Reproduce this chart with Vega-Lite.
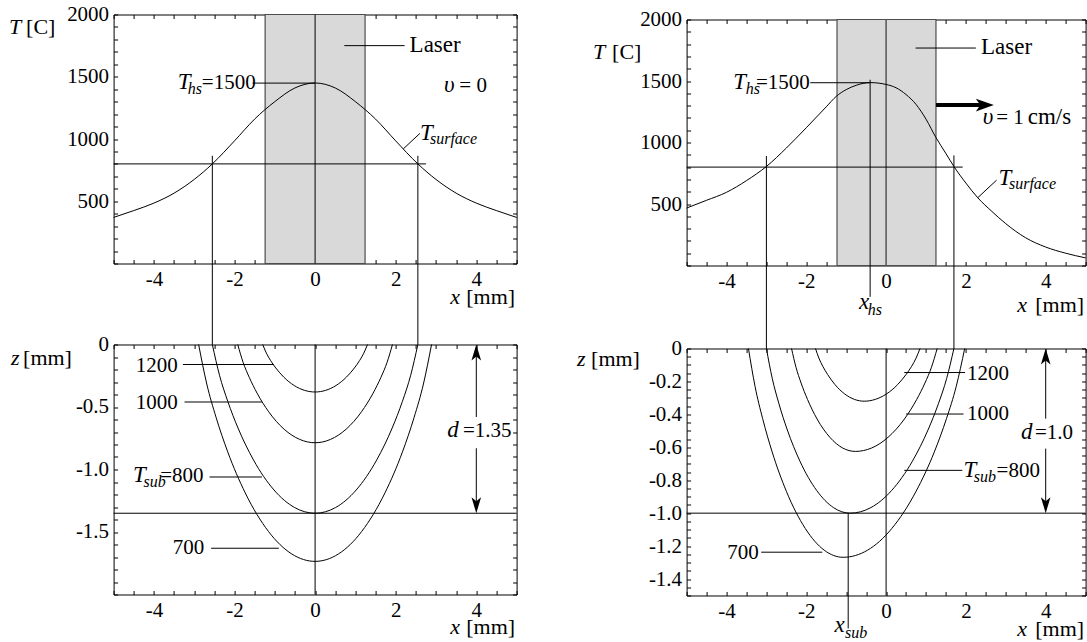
{
  "$schema": "https://vega.github.io/schema/vega-lite/v6.json",
  "background": "white",
  "padding": {"left": 8.6, "top": 3.5, "right": 0, "bottom": 0},
  "autosize": {"type": "pad"},
  "config": {
    "view": {"stroke": null},
    "axis": {
      "domainColor": "black", "domainWidth": 1, "tickColor": "black", "tickWidth": 1, "tickSize": -4,
      "labelColor": "black", "labelFont": "Liberation Sans Narrow", "labelFontSize": 21, "labelPadding": 9,
      "labelOverlap": false, "labelFlush": false, "labelBound": false, "grid": false,
      "titleColor": "black", "titleFont": "Liberation Serif", "titleFontSize": 22, "titleFontWeight": "normal"
    }
  },
  "datasets": {
    "tl_laser": [{"x1": -1.24, "x2": 1.24, "t1": 0, "t2": 2000}],
    "tl_curve": [
      {"x": -5, "t": 370}, {"x": -4.5, "t": 425}, {"x": -4, "t": 485}, {"x": -3.5, "t": 565}, {"x": -3, "t": 675},
      {"x": -2.55, "t": 800}, {"x": -2, "t": 985}, {"x": -1.5, "t": 1160}, {"x": -1, "t": 1300}, {"x": -0.5, "t": 1410},
      {"x": 0, "t": 1450}, {"x": 0.5, "t": 1410}, {"x": 1, "t": 1300}, {"x": 1.5, "t": 1160}, {"x": 2, "t": 985},
      {"x": 2.55, "t": 800}, {"x": 3, "t": 675}, {"x": 3.5, "t": 565}, {"x": 4, "t": 485}, {"x": 4.5, "t": 425}, {"x": 5, "t": 370}
    ],
    "tl_seg": [
      {"x1": -5, "x2": 2.75, "t1": 800, "t2": 800},
      {"x1": -2.55, "x2": -2.55, "t1": 865, "t2": -652},
      {"x1": 2.55, "x2": 2.55, "t1": 865, "t2": -652},
      {"x1": 0, "x2": 0, "t1": 0, "t2": 2000},
      {"x1": 0.725, "x2": 2.22, "t1": 1750, "t2": 1750},
      {"x1": -1.55, "x2": 0, "t1": 1449, "t2": 1449},
      {"x1": 2.19, "x2": 2.6, "t1": 921, "t2": 1045}
    ],
    "tl_it": [{"x": -3.41, "t": 1401, "s": "T"}, {"x": 2.6, "t": 990, "s": "T"}, {"x": 3.2, "t": 1374, "s": "υ"}],
    "tl_sub": [{"x": -3.16, "t": 1361, "s": "hs"}, {"x": 2.85, "t": 963, "s": "surface"}],
    "tl_sans": [{"x": -2.81, "t": 1401, "s": "=1500"}, {"x": 3.58, "t": 1374, "s": "= 0"}],
    "tl_serif": [{"x": 2.345, "t": 1696, "s": "Laser"}],

    "bl_curve": [
      {"c": "1200", "x": -1.3, "z": 0}, {"c": "1200", "x": -1.209, "z": -0.069}, {"c": "1200", "x": -1.105, "z": -0.128}, {"c": "1200", "x": -0.975, "z": -0.188},
      {"c": "1200", "x": -0.78, "z": -0.26}, {"c": "1200", "x": -0.52, "z": -0.328}, {"c": "1200", "x": -0.26, "z": -0.367}, {"c": "1200", "x": 0, "z": -0.38},
      {"c": "1200", "x": 0.26, "z": -0.367}, {"c": "1200", "x": 0.52, "z": -0.328}, {"c": "1200", "x": 0.78, "z": -0.26}, {"c": "1200", "x": 0.975, "z": -0.188},
      {"c": "1200", "x": 1.105, "z": -0.128}, {"c": "1200", "x": 1.209, "z": -0.069}, {"c": "1200", "x": 1.3, "z": 0},
      {"c": "1000", "x": -1.92, "z": 0}, {"c": "1000", "x": -1.786, "z": -0.143}, {"c": "1000", "x": -1.632, "z": -0.264}, {"c": "1000", "x": -1.44, "z": -0.389},
      {"c": "1000", "x": -1.152, "z": -0.538}, {"c": "1000", "x": -0.768, "z": -0.678}, {"c": "1000", "x": -0.384, "z": -0.759}, {"c": "1000", "x": 0, "z": -0.786},
      {"c": "1000", "x": 0.384, "z": -0.759}, {"c": "1000", "x": 0.768, "z": -0.678}, {"c": "1000", "x": 1.152, "z": -0.538}, {"c": "1000", "x": 1.44, "z": -0.389},
      {"c": "1000", "x": 1.632, "z": -0.264}, {"c": "1000", "x": 1.786, "z": -0.143}, {"c": "1000", "x": 1.92, "z": 0},
      {"c": "800", "x": -2.55, "z": 0}, {"c": "800", "x": -2.372, "z": -0.246}, {"c": "800", "x": -2.168, "z": -0.454}, {"c": "800", "x": -1.913, "z": -0.668},
      {"c": "800", "x": -1.53, "z": -0.923}, {"c": "800", "x": -1.02, "z": -1.164}, {"c": "800", "x": -0.51, "z": -1.304}, {"c": "800", "x": 0, "z": -1.35},
      {"c": "800", "x": 0.51, "z": -1.304}, {"c": "800", "x": 1.02, "z": -1.164}, {"c": "800", "x": 1.53, "z": -0.923}, {"c": "800", "x": 1.913, "z": -0.668},
      {"c": "800", "x": 2.168, "z": -0.454}, {"c": "800", "x": 2.372, "z": -0.246}, {"c": "800", "x": 2.55, "z": 0},
      {"c": "700", "x": -2.89, "z": 0}, {"c": "700", "x": -2.688, "z": -0.316}, {"c": "700", "x": -2.457, "z": -0.583}, {"c": "700", "x": -2.168, "z": -0.859},
      {"c": "700", "x": -1.734, "z": -1.187}, {"c": "700", "x": -1.156, "z": -1.496}, {"c": "700", "x": -0.578, "z": -1.676}, {"c": "700", "x": 0, "z": -1.735},
      {"c": "700", "x": 0.578, "z": -1.676}, {"c": "700", "x": 1.156, "z": -1.496}, {"c": "700", "x": 1.734, "z": -1.187}, {"c": "700", "x": 2.168, "z": -0.859},
      {"c": "700", "x": 2.457, "z": -0.583}, {"c": "700", "x": 2.688, "z": -0.316}, {"c": "700", "x": 2.89, "z": 0}
    ],
    "bl_seg": [
      {"x1": 0, "x2": 0, "z1": -2, "z2": 0},
      {"x1": -5, "x2": 5, "z1": -1.35, "z2": -1.35},
      {"x1": -3.28, "x2": -1.02, "z1": -0.16, "z2": -0.16},
      {"x1": -3.24, "x2": -1.32, "z1": -0.46, "z2": -0.46},
      {"x1": -2.62, "x2": -1.32, "z1": -1.06, "z2": -1.06},
      {"x1": -2.58, "x2": -0.9, "z1": -1.63, "z2": -1.63},
      {"x1": 4, "x2": 4, "z1": -0.03, "z2": -0.58},
      {"x1": 4, "x2": 4, "z1": -0.83, "z2": -1.32}
    ],
    "bl_up": [{"x": 4, "z": 0}],
    "bl_down": [{"x": 4, "z": -1.35}],
    "bl_sans_r": [{"x": -3.41, "z": -0.219, "s": "1200"}, {"x": -3.41, "z": -0.513, "s": "1000"}, {"x": -2.77, "z": -1.1, "s": "=800"}, {"x": -2.75, "z": -1.676, "s": "700"}],
    "bl_sans": [{"x": 3.67, "z": -0.74, "s": "=1.35"}],
    "bl_it": [{"x": -4.52, "z": -1.1, "s": "T"}, {"x": 3.28, "z": -0.74, "s": "d"}],
    "bl_sub": [{"x": -4.26, "z": -1.14, "s": "sub"}],

    "tr_laser": [{"x1": -1.23, "x2": 1.25, "t1": 0, "t2": 2000}],
    "tr_curve": [
      {"x": -5, "t": 467}, {"x": -4.5, "t": 530}, {"x": -4, "t": 595}, {"x": -3.5, "t": 690}, {"x": -3, "t": 805},
      {"x": -2.5, "t": 955}, {"x": -2, "t": 1120}, {"x": -1.5, "t": 1290}, {"x": -1.25, "t": 1375}, {"x": -1, "t": 1430},
      {"x": -0.75, "t": 1465}, {"x": -0.4, "t": 1487}, {"x": 0, "t": 1472}, {"x": 0.25, "t": 1445}, {"x": 0.5, "t": 1390},
      {"x": 0.75, "t": 1310}, {"x": 1, "t": 1190}, {"x": 1.25, "t": 1040}, {"x": 1.5, "t": 910}, {"x": 1.7, "t": 805},
      {"x": 2, "t": 670}, {"x": 2.3, "t": 550}, {"x": 2.65, "t": 440}, {"x": 3, "t": 340}, {"x": 3.5, "t": 225},
      {"x": 4, "t": 150}, {"x": 4.5, "t": 100}, {"x": 5, "t": 62}
    ],
    "tr_seg": [
      {"x1": -5, "x2": 1.92, "t1": 800, "t2": 800},
      {"x1": -3, "x2": -3, "t1": 890, "t2": -677},
      {"x1": 1.7, "x2": 1.7, "t1": 895, "t2": -677},
      {"x1": -0.4, "x2": -0.4, "t1": 1510, "t2": -255},
      {"x1": 0.74, "x2": 2.25, "t1": 1768, "t2": 1768},
      {"x1": -1.9, "x2": -0.4, "t1": 1486, "t2": 1486},
      {"x1": 2.3, "x2": 2.77, "t1": 552, "t2": 694}
    ],
    "tr_zero": [{"x1": 0, "x2": 0, "t1": 0, "t2": 2000}],
    "tr_shaft": [{"x1": 1.25, "x2": 2.45, "t1": 1304, "t2": 1304}],
    "tr_head": [{"x": 2.7, "t": 1304}],
    "tr_it": [{"x": -3.83, "t": 1438, "s": "T"}, {"x": 2.82, "t": 653, "s": "T"}, {"x": 2.42, "t": 1154, "s": "υ"}, {"x": -0.68, "t": -351, "s": "x"}],
    "tr_sub": [{"x": -3.52, "t": 1397, "s": "hs"}, {"x": 3.08, "t": 626, "s": "surface"}, {"x": -0.46, "t": -406, "s": "hs"}],
    "tr_sans": [{"x": -3.26, "t": 1438, "s": "=1500"}, {"x": 2.76, "t": 1154, "s": "= 1"}],
    "tr_serif": [{"x": 2.38, "t": 1716, "s": "Laser"}, {"x": 3.55, "t": 1154, "s": "cm/s"}],

    "br_curve": [
      {"c": "1200", "x": -1.77, "z": 0}, {"c": "1200", "x": -1.685, "z": -0.058}, {"c": "1200", "x": -1.587, "z": -0.108}, {"c": "1200", "x": -1.465, "z": -0.158},
      {"c": "1200", "x": -1.282, "z": -0.219}, {"c": "1200", "x": -1.038, "z": -0.276}, {"c": "1200", "x": -0.794, "z": -0.309}, {"c": "1200", "x": -0.55, "z": -0.32},
      {"c": "1200", "x": -0.27, "z": -0.309}, {"c": "1200", "x": 0.01, "z": -0.276}, {"c": "1200", "x": 0.29, "z": -0.219}, {"c": "1200", "x": 0.5, "z": -0.158},
      {"c": "1200", "x": 0.64, "z": -0.108}, {"c": "1200", "x": 0.752, "z": -0.058}, {"c": "1200", "x": 0.85, "z": 0},
      {"c": "1000", "x": -2.37, "z": 0}, {"c": "1000", "x": -2.258, "z": -0.114}, {"c": "1000", "x": -2.13, "z": -0.21}, {"c": "1000", "x": -1.97, "z": -0.309},
      {"c": "1000", "x": -1.73, "z": -0.428}, {"c": "1000", "x": -1.41, "z": -0.539}, {"c": "1000", "x": -1.09, "z": -0.604}, {"c": "1000", "x": -0.77, "z": -0.625},
      {"c": "1000", "x": -0.36, "z": -0.604}, {"c": "1000", "x": 0.05, "z": -0.539}, {"c": "1000", "x": 0.46, "z": -0.428}, {"c": "1000", "x": 0.768, "z": -0.309},
      {"c": "1000", "x": 0.973, "z": -0.21}, {"c": "1000", "x": 1.137, "z": -0.114}, {"c": "1000", "x": 1.28, "z": 0},
      {"c": "800", "x": -3, "z": 0}, {"c": "800", "x": -2.853, "z": -0.182}, {"c": "800", "x": -2.685, "z": -0.336}, {"c": "800", "x": -2.475, "z": -0.495},
      {"c": "800", "x": -2.16, "z": -0.684}, {"c": "800", "x": -1.74, "z": -0.862}, {"c": "800", "x": -1.32, "z": -0.966}, {"c": "800", "x": -0.9, "z": -1},
      {"c": "800", "x": -0.38, "z": -0.966}, {"c": "800", "x": 0.14, "z": -0.862}, {"c": "800", "x": 0.66, "z": -0.684}, {"c": "800", "x": 1.05, "z": -0.495},
      {"c": "800", "x": 1.31, "z": -0.336}, {"c": "800", "x": 1.518, "z": -0.182}, {"c": "800", "x": 1.7, "z": 0},
      {"c": "700", "x": -3.45, "z": 0}, {"c": "700", "x": -3.284, "z": -0.231}, {"c": "700", "x": -3.094, "z": -0.426}, {"c": "700", "x": -2.856, "z": -0.628},
      {"c": "700", "x": -2.5, "z": -0.867}, {"c": "700", "x": -2.025, "z": -1.093}, {"c": "700", "x": -1.55, "z": -1.225}, {"c": "700", "x": -1.075, "z": -1.268},
      {"c": "700", "x": -0.466, "z": -1.225}, {"c": "700", "x": 0.143, "z": -1.093}, {"c": "700", "x": 0.752, "z": -0.867}, {"c": "700", "x": 1.209, "z": -0.628},
      {"c": "700", "x": 1.513, "z": -0.426}, {"c": "700", "x": 1.757, "z": -0.231}, {"c": "700", "x": 1.97, "z": 0}
    ],
    "br_seg": [
      {"x1": 0, "x2": 0, "z1": -1.5, "z2": 0},
      {"x1": -5, "x2": 5, "z1": -1, "z2": -1},
      {"x1": -0.95, "x2": -0.95, "z1": -1, "z2": -1.7},
      {"x1": 0.455, "x2": 1.98, "z1": -0.146, "z2": -0.146},
      {"x1": 0.5, "x2": 1.94, "z1": -0.398, "z2": -0.398},
      {"x1": 0.455, "x2": 1.91, "z1": -0.74, "z2": -0.74},
      {"x1": -3.13, "x2": -1.6, "z1": -1.237, "z2": -1.237},
      {"x1": 4, "x2": 4, "z1": -0.02, "z2": -0.426},
      {"x1": 4, "x2": 4, "z1": -0.608, "z2": -0.98}
    ],
    "br_up": [{"x": 4, "z": 0}],
    "br_down": [{"x": 4, "z": -1}],
    "br_sans": [{"x": 2.03, "z": -0.189, "s": "1200"}, {"x": 2.03, "z": -0.436, "s": "1000"}, {"x": 2.77, "z": -0.781, "s": "=800"}, {"x": 3.73, "z": -0.548, "s": "=1.0"}],
    "br_sans_r": [{"x": -3.19, "z": -1.278, "s": "700"}],
    "br_it": [{"x": 1.94, "z": -0.781, "s": "T"}, {"x": 3.38, "z": -0.548, "s": "d"}, {"x": -1.29, "z": -1.72, "s": "x"}],
    "br_sub": [{"x": 2.2, "z": -0.811, "s": "sub"}, {"x": -1.03, "z": -1.76, "s": "sub"}]
  },
  "spacing": 58,
  "hconcat": [
    {
      "bounds": "flush",
      "spacing": 81,
      "vconcat": [
        {
          "width": 403, "height": 249,
          "resolve": {"axis": {"x": "independent", "y": "independent"}},
          "layer": [
            {"data": {"name": "tl_laser"}, "mark": {"type": "rect", "fill": "#d9d9d9", "stroke": "#4d4d4d", "strokeWidth": 1.2},
             "encoding": {
               "x": {"field": "x1", "type": "quantitative", "scale": {"domain": [-5, 5], "nice": false, "zero": false},
                     "axis": {"orient": "bottom", "values": [-5,-4.5,-4,-3.5,-3,-2.5,-2,-1.5,-1,-0.5,0,0.5,1,1.5,2,2.5,3,3.5,4,4.5,5],
                              "labelExpr": "datum.value % 2 == 0 ? (datum.value < 0 ? '-' + (-datum.value) : '' + datum.value) : ''",
                              "title": "[mm]", "titleX": 401, "titleY": 40, "titleAlign": "right", "titleBaseline": "alphabetic", "titleAngle": 0}},
               "x2": {"field": "x2"},
               "y": {"field": "t1", "type": "quantitative", "scale": {"domain": [0, 2000], "nice": false, "zero": false},
                     "axis": {"orient": "left", "values": [0,100,200,300,400,500,600,700,800,900,1000,1100,1200,1300,1400,1500,1600,1700,1800,1900,2000],
                              "labelExpr": "datum.value % 500 == 0 && datum.value > 0 ? '' + datum.value : ''",
                              "title": "[C]", "titleX": -88, "titleY": 19, "titleAlign": "left", "titleBaseline": "alphabetic", "titleAngle": 0}},
               "y2": {"field": "t2"}}},
            {"data": {"name": "tl_curve"}, "mark": {"type": "line", "color": "black", "strokeWidth": 1, "interpolate": "monotone"},
             "encoding": {
               "x": {"field": "x", "type": "quantitative", "axis": {"orient": "top", "values": [-5,-4.5,-4,-3.5,-3,-2.5,-2,-1.5,-1,-0.5,0,0.5,1,1.5,2,2.5,3,3.5,4,4.5,5], "labels": false, "title": null}},
               "y": {"field": "t", "type": "quantitative", "axis": {"orient": "right", "values": [0,100,200,300,400,500,600,700,800,900,1000,1100,1200,1300,1400,1500,1600,1700,1800,1900,2000], "labels": false, "title": null}}}},
            {"data": {"name": "tl_seg"}, "mark": {"type": "rule", "color": "black", "strokeWidth": 1},
             "encoding": {
               "x": {"field": "x1", "type": "quantitative", "axis": {"orient": "bottom", "domain": false, "ticks": false, "labels": false, "title": "x", "titleFontStyle": "italic", "titleX": 346, "titleY": 40, "titleAlign": "right", "titleBaseline": "alphabetic", "titleAngle": 0}},
               "x2": {"field": "x2"},
               "y": {"field": "t1", "type": "quantitative", "axis": {"orient": "left", "domain": false, "ticks": false, "labels": false, "title": "T", "titleFontStyle": "italic", "titleX": -105, "titleY": 19, "titleAlign": "left", "titleBaseline": "alphabetic", "titleAngle": 0}},
               "y2": {"field": "t2"}}},
            {"data": {"name": "tl_it"}, "mark": {"type": "text", "font": "Liberation Serif", "fontStyle": "italic", "fontSize": 23, "align": "left", "baseline": "alphabetic", "color": "black"},
             "encoding": {"x": {"field": "x", "type": "quantitative", "axis": null}, "y": {"field": "t", "type": "quantitative", "axis": null}, "text": {"field": "s"}}},
            {"data": {"name": "tl_sub"}, "mark": {"type": "text", "font": "Liberation Serif", "fontStyle": "italic", "fontSize": 16, "align": "left", "baseline": "alphabetic", "color": "black"},
             "encoding": {"x": {"field": "x", "type": "quantitative", "axis": null}, "y": {"field": "t", "type": "quantitative", "axis": null}, "text": {"field": "s"}}},
            {"data": {"name": "tl_sans"}, "mark": {"type": "text", "font": "Liberation Sans Narrow", "fontSize": 21, "align": "left", "baseline": "alphabetic", "color": "black"},
             "encoding": {"x": {"field": "x", "type": "quantitative", "axis": null}, "y": {"field": "t", "type": "quantitative", "axis": null}, "text": {"field": "s"}}},
            {"data": {"name": "tl_serif"}, "mark": {"type": "text", "font": "Liberation Serif", "fontSize": 23, "align": "left", "baseline": "alphabetic", "color": "black"},
             "encoding": {"x": {"field": "x", "type": "quantitative", "axis": null}, "y": {"field": "t", "type": "quantitative", "axis": null}, "text": {"field": "s"}}}
          ]
        },
        {
          "width": 403, "height": 250,
          "resolve": {"axis": {"x": "independent", "y": "independent"}},
          "layer": [
            {"data": {"name": "bl_seg"}, "mark": {"type": "rule", "color": "black", "strokeWidth": 1},
             "encoding": {
               "x": {"field": "x1", "type": "quantitative", "scale": {"domain": [-5, 5], "nice": false, "zero": false},
                     "axis": {"orient": "bottom", "values": [-5,-4.5,-4,-3.5,-3,-2.5,-2,-1.5,-1,-0.5,0,0.5,1,1.5,2,2.5,3,3.5,4,4.5,5],
                              "labelExpr": "datum.value % 2 == 0 ? (datum.value < 0 ? '-' + (-datum.value) : '' + datum.value) : ''",
                              "title": "[mm]", "titleX": 401, "titleY": 39, "titleAlign": "right", "titleBaseline": "alphabetic", "titleAngle": 0}},
               "x2": {"field": "x2"},
               "y": {"field": "z1", "type": "quantitative", "scale": {"domain": [-2, 0], "nice": false, "zero": false},
                     "axis": {"orient": "left", "values": [0,-0.1,-0.2,-0.3,-0.4,-0.5,-0.6,-0.7,-0.8,-0.9,-1,-1.1,-1.2,-1.3,-1.4,-1.5,-1.6,-1.7,-1.8,-1.9,-2],
                              "labelExpr": "datum.value == 0 ? '0' : (abs(datum.value * 2 - round(datum.value * 2)) < 0.000001 && datum.value > -1.9 ? '-' + format(-datum.value, '.1f') : '')",
                              "title": "[mm]", "titleX": -91, "titleY": 20, "titleAlign": "left", "titleBaseline": "alphabetic", "titleAngle": 0}},
               "y2": {"field": "z2"}}},
            {"data": {"name": "bl_curve"}, "mark": {"type": "line", "color": "black", "strokeWidth": 1, "interpolate": "monotone"},
             "encoding": {
               "x": {"field": "x", "type": "quantitative", "axis": {"orient": "top", "values": [-5,-4.5,-4,-3.5,-3,-2.5,-2,-1.5,-1,-0.5,0,0.5,1,1.5,2,2.5,3,3.5,4,4.5,5], "labels": false, "title": null}},
               "y": {"field": "z", "type": "quantitative", "axis": {"orient": "right", "values": [0,-0.1,-0.2,-0.3,-0.4,-0.5,-0.6,-0.7,-0.8,-0.9,-1,-1.1,-1.2,-1.3,-1.4,-1.5,-1.6,-1.7,-1.8,-1.9,-2], "labels": false, "title": null}},
               "detail": {"field": "c"}}},
            {"data": {"name": "bl_it"}, "mark": {"type": "text", "font": "Liberation Serif", "fontStyle": "italic", "fontSize": 23, "align": "left", "baseline": "alphabetic", "color": "black"},
             "encoding": {
               "x": {"field": "x", "type": "quantitative", "axis": {"orient": "bottom", "domain": false, "ticks": false, "labels": false, "title": "x", "titleFontStyle": "italic", "titleX": 346, "titleY": 39, "titleAlign": "right", "titleBaseline": "alphabetic", "titleAngle": 0}},
               "y": {"field": "z", "type": "quantitative", "axis": {"orient": "left", "domain": false, "ticks": false, "labels": false, "title": "z", "titleFontStyle": "italic", "titleX": -103, "titleY": 20, "titleAlign": "left", "titleBaseline": "alphabetic", "titleAngle": 0}},
               "text": {"field": "s"}}},
            {"data": {"name": "bl_sub"}, "mark": {"type": "text", "font": "Liberation Serif", "fontStyle": "italic", "fontSize": 16, "align": "left", "baseline": "alphabetic", "color": "black"},
             "encoding": {"x": {"field": "x", "type": "quantitative", "axis": null}, "y": {"field": "z", "type": "quantitative", "axis": null}, "text": {"field": "s"}}},
            {"data": {"name": "bl_sans"}, "mark": {"type": "text", "font": "Liberation Sans Narrow", "fontSize": 21, "align": "left", "baseline": "alphabetic", "color": "black"},
             "encoding": {"x": {"field": "x", "type": "quantitative", "axis": null}, "y": {"field": "z", "type": "quantitative", "axis": null}, "text": {"field": "s"}}},
            {"data": {"name": "bl_sans_r"}, "mark": {"type": "text", "font": "Liberation Sans Narrow", "fontSize": 21, "align": "right", "baseline": "alphabetic", "color": "black"},
             "encoding": {"x": {"field": "x", "type": "quantitative", "axis": null}, "y": {"field": "z", "type": "quantitative", "axis": null}, "text": {"field": "s"}}},
            {"data": {"name": "bl_up"}, "mark": {"type": "point", "shape": "M0,0 L0.6,2 L0,1.5 L-0.6,2 Z", "size": 256, "filled": true, "color": "black", "opacity": 1, "strokeWidth": 0},
             "encoding": {"x": {"field": "x", "type": "quantitative", "axis": null}, "y": {"field": "z", "type": "quantitative", "axis": null}}},
            {"data": {"name": "bl_down"}, "mark": {"type": "point", "shape": "M0,0 L0.6,-2 L0,-1.5 L-0.6,-2 Z", "size": 256, "filled": true, "color": "black", "opacity": 1, "strokeWidth": 0},
             "encoding": {"x": {"field": "x", "type": "quantitative", "axis": null}, "y": {"field": "z", "type": "quantitative", "axis": null}}}
          ]
        }
      ]
    },
    {
      "bounds": "flush",
      "spacing": 4,
      "vconcat": [
        {"width": 399, "height": 1, "data": {"values": []}, "mark": "point"},
        {
          "bounds": "flush",
          "spacing": 83,
          "vconcat": [
            {
              "width": 399, "height": 246,
              "resolve": {"axis": {"x": "independent", "y": "independent"}},
              "layer": [
                {"data": {"name": "tr_laser"}, "mark": {"type": "rect", "fill": "#d9d9d9", "stroke": "#4d4d4d", "strokeWidth": 1.2},
                 "encoding": {
                   "x": {"field": "x1", "type": "quantitative", "scale": {"domain": [-5, 5], "nice": false, "zero": false},
                         "axis": {"orient": "bottom", "values": [-5,-4.5,-4,-3.5,-3,-2.5,-2,-1.5,-1,-0.5,0,0.5,1,1.5,2,2.5,3,3.5,4,4.5,5],
                                  "labelExpr": "datum.value % 2 == 0 ? (datum.value < 0 ? '-' + (-datum.value) : '' + datum.value) : ''",
                                  "title": "[mm]", "titleX": 397, "titleY": 46, "titleAlign": "right", "titleBaseline": "alphabetic", "titleAngle": 0}},
                   "x2": {"field": "x2"},
                   "y": {"field": "t1", "type": "quantitative", "scale": {"domain": [0, 2000], "nice": false, "zero": false},
                         "axis": {"orient": "left", "values": [0,100,200,300,400,500,600,700,800,900,1000,1100,1200,1300,1400,1500,1600,1700,1800,1900,2000],
                                  "labelExpr": "datum.value % 500 == 0 && datum.value > 0 ? '' + datum.value : ''",
                                  "title": "[C]", "titleX": -75, "titleY": 39, "titleAlign": "left", "titleBaseline": "alphabetic", "titleAngle": 0}},
                   "y2": {"field": "t2"}}},
                {"data": {"name": "tr_zero"}, "mark": {"type": "rule", "color": "#555555", "strokeWidth": 1.5},
                 "encoding": {"x": {"field": "x1", "type": "quantitative", "axis": null}, "x2": {"field": "x2"}, "y": {"field": "t1", "type": "quantitative", "axis": null}, "y2": {"field": "t2"}}},
                {"data": {"name": "tr_curve"}, "mark": {"type": "line", "color": "black", "strokeWidth": 1, "interpolate": "monotone"},
                 "encoding": {
                   "x": {"field": "x", "type": "quantitative", "axis": {"orient": "top", "values": [-5,-4.5,-4,-3.5,-3,-2.5,-2,-1.5,-1,-0.5,0,0.5,1,1.5,2,2.5,3,3.5,4,4.5,5], "labels": false, "title": null}},
                   "y": {"field": "t", "type": "quantitative", "axis": {"orient": "right", "values": [0,100,200,300,400,500,600,700,800,900,1000,1100,1200,1300,1400,1500,1600,1700,1800,1900,2000], "labels": false, "title": null}}}},
                {"data": {"name": "tr_seg"}, "mark": {"type": "rule", "color": "black", "strokeWidth": 1},
                 "encoding": {
                   "x": {"field": "x1", "type": "quantitative", "axis": {"orient": "bottom", "domain": false, "ticks": false, "labels": false, "title": "x", "titleFontStyle": "italic", "titleX": 340, "titleY": 46, "titleAlign": "right", "titleBaseline": "alphabetic", "titleAngle": 0}},
                   "x2": {"field": "x2"},
                   "y": {"field": "t1", "type": "quantitative", "axis": {"orient": "left", "domain": false, "ticks": false, "labels": false, "title": "T", "titleFontStyle": "italic", "titleX": -94, "titleY": 39, "titleAlign": "left", "titleBaseline": "alphabetic", "titleAngle": 0}},
                   "y2": {"field": "t2"}}},
                {"data": {"name": "tr_shaft"}, "mark": {"type": "rule", "color": "black", "strokeWidth": 4},
                 "encoding": {"x": {"field": "x1", "type": "quantitative", "axis": null}, "x2": {"field": "x2"}, "y": {"field": "t1", "type": "quantitative", "axis": null}, "y2": {"field": "t2"}}},
                {"data": {"name": "tr_head"}, "mark": {"type": "point", "shape": "M0,0 L-2,-0.7 L-1.5,0 L-2,0.7 Z", "size": 324, "filled": true, "color": "black", "opacity": 1, "strokeWidth": 0},
                 "encoding": {"x": {"field": "x", "type": "quantitative", "axis": null}, "y": {"field": "t", "type": "quantitative", "axis": null}}},
                {"data": {"name": "tr_it"}, "mark": {"type": "text", "font": "Liberation Serif", "fontStyle": "italic", "fontSize": 23, "align": "left", "baseline": "alphabetic", "color": "black"},
                 "encoding": {"x": {"field": "x", "type": "quantitative", "axis": null}, "y": {"field": "t", "type": "quantitative", "axis": null}, "text": {"field": "s"}}},
                {"data": {"name": "tr_sub"}, "mark": {"type": "text", "font": "Liberation Serif", "fontStyle": "italic", "fontSize": 16, "align": "left", "baseline": "alphabetic", "color": "black"},
                 "encoding": {"x": {"field": "x", "type": "quantitative", "axis": null}, "y": {"field": "t", "type": "quantitative", "axis": null}, "text": {"field": "s"}}},
                {"data": {"name": "tr_sans"}, "mark": {"type": "text", "font": "Liberation Sans Narrow", "fontSize": 21, "align": "left", "baseline": "alphabetic", "color": "black"},
                 "encoding": {"x": {"field": "x", "type": "quantitative", "axis": null}, "y": {"field": "t", "type": "quantitative", "axis": null}, "text": {"field": "s"}}},
                {"data": {"name": "tr_serif"}, "mark": {"type": "text", "font": "Liberation Serif", "fontSize": 23, "align": "left", "baseline": "alphabetic", "color": "black"},
                 "encoding": {"x": {"field": "x", "type": "quantitative", "axis": null}, "y": {"field": "t", "type": "quantitative", "axis": null}, "text": {"field": "s"}}}
              ]
            },
            {
              "width": 399, "height": 247,
              "resolve": {"axis": {"x": "independent", "y": "independent"}},
              "layer": [
                {"data": {"name": "br_seg"}, "mark": {"type": "rule", "color": "black", "strokeWidth": 1},
                 "encoding": {
                   "x": {"field": "x1", "type": "quantitative", "scale": {"domain": [-5, 5], "nice": false, "zero": false},
                         "axis": {"orient": "bottom", "values": [-5,-4.5,-4,-3.5,-3,-2.5,-2,-1.5,-1,-0.5,0,0.5,1,1.5,2,2.5,3,3.5,4,4.5,5],
                                  "labelExpr": "datum.value % 2 == 0 ? (datum.value < 0 ? '-' + (-datum.value) : '' + datum.value) : ''",
                                  "title": "[mm]", "titleX": 397, "titleY": 40, "titleAlign": "right", "titleBaseline": "alphabetic", "titleAngle": 0}},
                   "x2": {"field": "x2"},
                   "y": {"field": "z1", "type": "quantitative", "scale": {"domain": [-1.5, 0], "nice": false, "zero": false},
                         "axis": {"orient": "left", "values": [0,-0.05,-0.1,-0.15,-0.2,-0.25,-0.3,-0.35,-0.4,-0.45,-0.5,-0.55,-0.6,-0.65,-0.7,-0.75,-0.8,-0.85,-0.9,-0.95,-1,-1.05,-1.1,-1.15,-1.2,-1.25,-1.3,-1.35,-1.4,-1.45,-1.5],
                                  "labelExpr": "datum.value == 0 ? '0' : (abs(datum.value * 5 - round(datum.value * 5)) < 0.000001 ? '-' + format(-datum.value, '.1f') : '')",
                                  "title": "[mm]", "titleX": -96, "titleY": 17, "titleAlign": "left", "titleBaseline": "alphabetic", "titleAngle": 0}},
                   "y2": {"field": "z2"}}},
                {"data": {"name": "br_curve"}, "mark": {"type": "line", "color": "black", "strokeWidth": 1, "interpolate": "monotone"},
                 "encoding": {
                   "x": {"field": "x", "type": "quantitative", "axis": {"orient": "top", "values": [-5,-4.5,-4,-3.5,-3,-2.5,-2,-1.5,-1,-0.5,0,0.5,1,1.5,2,2.5,3,3.5,4,4.5,5], "labels": false, "title": null}},
                   "y": {"field": "z", "type": "quantitative", "axis": {"orient": "right", "values": [0,-0.05,-0.1,-0.15,-0.2,-0.25,-0.3,-0.35,-0.4,-0.45,-0.5,-0.55,-0.6,-0.65,-0.7,-0.75,-0.8,-0.85,-0.9,-0.95,-1,-1.05,-1.1,-1.15,-1.2,-1.25,-1.3,-1.35,-1.4,-1.45,-1.5], "labels": false, "title": null}},
                   "detail": {"field": "c"}}},
                {"data": {"name": "br_it"}, "mark": {"type": "text", "font": "Liberation Serif", "fontStyle": "italic", "fontSize": 23, "align": "left", "baseline": "alphabetic", "color": "black"},
                 "encoding": {
                   "x": {"field": "x", "type": "quantitative", "axis": {"orient": "bottom", "domain": false, "ticks": false, "labels": false, "title": "x", "titleFontStyle": "italic", "titleX": 340, "titleY": 40, "titleAlign": "right", "titleBaseline": "alphabetic", "titleAngle": 0}},
                   "y": {"field": "z", "type": "quantitative", "axis": {"orient": "left", "domain": false, "ticks": false, "labels": false, "title": "z", "titleFontStyle": "italic", "titleX": -110, "titleY": 17, "titleAlign": "left", "titleBaseline": "alphabetic", "titleAngle": 0}},
                   "text": {"field": "s"}}},
                {"data": {"name": "br_sub"}, "mark": {"type": "text", "font": "Liberation Serif", "fontStyle": "italic", "fontSize": 16, "align": "left", "baseline": "alphabetic", "color": "black"},
                 "encoding": {"x": {"field": "x", "type": "quantitative", "axis": null}, "y": {"field": "z", "type": "quantitative", "axis": null}, "text": {"field": "s"}}},
                {"data": {"name": "br_sans"}, "mark": {"type": "text", "font": "Liberation Sans Narrow", "fontSize": 21, "align": "left", "baseline": "alphabetic", "color": "black"},
                 "encoding": {"x": {"field": "x", "type": "quantitative", "axis": null}, "y": {"field": "z", "type": "quantitative", "axis": null}, "text": {"field": "s"}}},
                {"data": {"name": "br_sans_r"}, "mark": {"type": "text", "font": "Liberation Sans Narrow", "fontSize": 21, "align": "right", "baseline": "alphabetic", "color": "black"},
                 "encoding": {"x": {"field": "x", "type": "quantitative", "axis": null}, "y": {"field": "z", "type": "quantitative", "axis": null}, "text": {"field": "s"}}},
                {"data": {"name": "br_up"}, "mark": {"type": "point", "shape": "M0,0 L0.6,2 L0,1.5 L-0.6,2 Z", "size": 256, "filled": true, "color": "black", "opacity": 1, "strokeWidth": 0},
                 "encoding": {"x": {"field": "x", "type": "quantitative", "axis": null}, "y": {"field": "z", "type": "quantitative", "axis": null}}},
                {"data": {"name": "br_down"}, "mark": {"type": "point", "shape": "M0,0 L0.6,-2 L0,-1.5 L-0.6,-2 Z", "size": 256, "filled": true, "color": "black", "opacity": 1, "strokeWidth": 0},
                 "encoding": {"x": {"field": "x", "type": "quantitative", "axis": null}, "y": {"field": "z", "type": "quantitative", "axis": null}}}
              ]
            }
          ]
        }
      ]
    }
  ]
}
